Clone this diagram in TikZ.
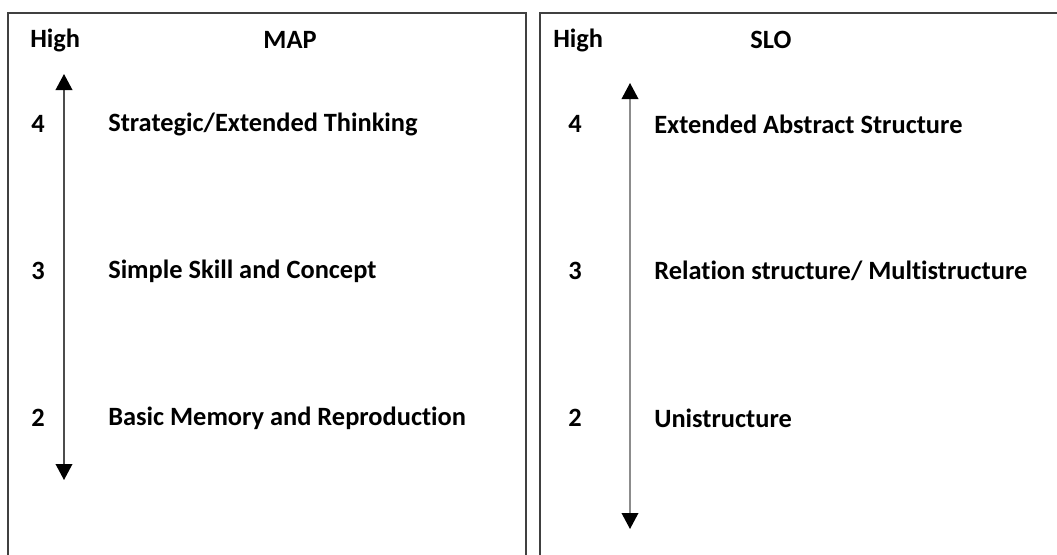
\documentclass[tikz,border=0pt]{standalone}
\usepackage{fontspec}
\setmainfont{Carlito}[Ligatures={NoCommon,NoRare}]
\usetikzlibrary{arrows.meta}
\begin{document}
\begin{tikzpicture}[x=0.75pt,y=-0.75pt,
  frame/.style={line width=1.1pt,draw=black!75},
  lbl/.style={font=\fontsize{19.8}{23}\selectfont\bfseries,anchor=west,inner sep=0pt},
  tip/.style={Triangle[length=12pt,width=12.5pt,fill=black,color=black]},
  axisL/.style={draw=black!70,line width=1.1pt,{Triangle[length=12pt,width=12.5pt,fill=black,color=black]}-{Triangle[length=12pt,width=12.5pt,fill=black,color=black]}},
  axisR/.style={draw=black!45,line width=1.1pt,{Triangle[length=12pt,width=12.5pt,fill=black,color=black]}-{Triangle[length=12pt,width=12.5pt,fill=black,color=black]}}]
\useasboundingbox (0,0) rectangle (1057,554);
% frames
\draw[frame] (8,556) -- (8,13) -- (526,13) -- (526,556);
\draw[frame] (540,556) -- (540,13) -- (1059,13);
% left panel
\node[lbl] (lhigh) at (30,40) {High};
\node[lbl,anchor=center] (map) at (290,40) {MAP};
\node[lbl] (l4) at (31,124) {4};
\node[lbl] (l3) at (31,271) {3};
\node[lbl] (l2) at (31,418) {2};
\node[lbl] (t4) at (108,124) {Strategic/Extended Thinking};
\node[lbl] (t3) at (108,271) {Simple Skill and Concept};
\node[lbl] (t2) at (108,418) {Basic Memory and Reproduction};
\coordinate (ltop) at (64,74);
\coordinate (lbot) at (64,480);
\draw[axisL] (lbot) -- (ltop);
% right panel
\node[lbl] (rhigh) at (553,40) {High};
\node[lbl,anchor=center] (slo) at (771,40) {SLO};
\node[lbl] (r4) at (568,124) {4};
\node[lbl] (r3) at (568,271) {3};
\node[lbl] (r2) at (568,418) {2};
\node[lbl] (s4) at (654,124) {Extended Abstract Structure};
\node[lbl] (s3) at (654,271) {Relation structure/ Multistructure};
\node[lbl] (s2) at (654,418) {Unistructure};
\coordinate (rtop) at (630,83);
\coordinate (rbot) at (630,529);
\draw[axisR] (rbot) -- (rtop);
\end{tikzpicture}
\end{document}
